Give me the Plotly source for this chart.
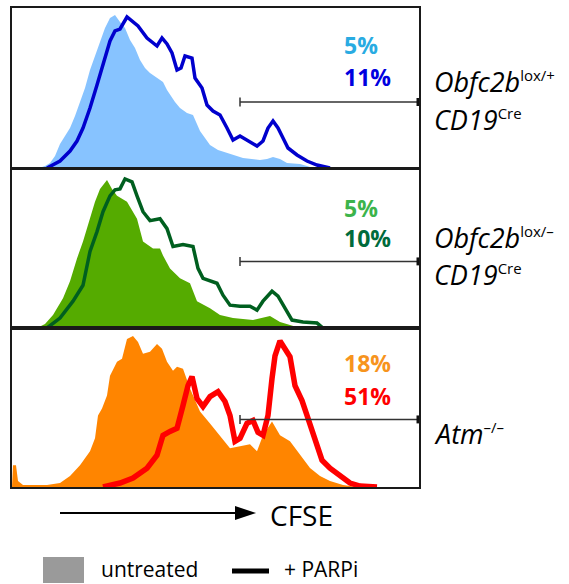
import plotly.graph_objects as go

W, H = 569, 584

# ---------------- data (CFSE channel, count) ----------------
# Panel 1: Obfc2b lox/+ CD19Cre
p1_untr_x = [27, 33, 38, 43, 48, 53, 58, 63, 68, 73, 78, 83, 88, 93, 98, 103, 108, 113, 118, 123, 128, 133, 138, 145, 151, 155, 158, 163, 168, 175, 181, 185, 188, 193, 198, 206, 215, 223, 231, 248, 255, 261, 268, 275, 288, 295, 301]
p1_untr_y = [0, 2, 5, 12, 24, 32, 40, 52, 66, 80, 98, 112, 127, 140, 150, 153, 146, 140, 128, 120, 108, 100, 95, 90, 86, 78, 73, 66, 60, 55, 53, 44, 37, 30, 23, 18, 15, 12, 10, 8, 9, 11, 9, 5, 4, 2, 0]
p1_parp_x = [35, 41, 48, 58, 65, 71, 78, 85, 91, 98, 103, 108, 115, 120, 126, 135, 145, 150, 155, 160, 165, 169, 173, 180, 183, 190, 195, 201, 208, 215, 221, 228, 235, 245, 251, 256, 261, 266, 271, 276, 285, 295, 305, 318]
p1_parp_y = [0, 3, 7, 17, 27, 40, 60, 83, 103, 127, 137, 139, 151, 147, 142, 130, 122, 130, 124, 115, 98, 100, 112, 110, 90, 80, 63, 57, 53, 40, 28, 32, 28, 22, 27, 40, 47, 40, 30, 20, 13, 7, 3, 0]

# Panel 2: Obfc2b lox/- CD19Cre
p2_untr_x = [25, 33, 41, 51, 58, 65, 71, 78, 83, 88, 95, 100, 105, 115, 125, 131, 141, 148, 151, 158, 168, 178, 185, 198, 208, 221, 241, 258, 268, 278, 288]
p2_untr_y = [0, 4, 13, 30, 47, 70, 87, 110, 127, 140, 149, 140, 133, 127, 110, 87, 80, 80, 73, 60, 50, 45, 27, 20, 13, 10, 8, 12, 6, 3, 0]
p2_parp_x = [35, 48, 61, 71, 78, 85, 91, 98, 103, 108, 113, 120, 125, 131, 138, 148, 155, 161, 171, 181, 186, 191, 205, 211, 218, 228, 238, 245, 251, 260, 266, 273, 280, 291, 305, 311]
p2_parp_y = [0, 10, 27, 43, 77, 97, 117, 133, 139, 140, 150, 147, 133, 117, 108, 110, 100, 82, 84, 82, 60, 50, 45, 33, 23, 22, 22, 18, 27, 37, 32, 20, 8, 6, 5, 0]

# Panel 3: Atm -/-
p3_untr_x = [0, 1, 4, 6, 11, 35, 48, 58, 68, 78, 83, 86, 90, 95, 98, 105, 110, 115, 121, 126, 131, 138, 145, 150, 155, 161, 165, 171, 178, 188, 198, 208, 218, 228, 238, 245, 251, 260, 268, 278, 288, 298, 308, 318, 331, 345]
p3_untr_y = [0, 22, 22, 6, 2, 2, 4, 11, 22, 36, 49, 72, 79, 92, 112, 126, 129, 149, 152, 146, 134, 136, 144, 139, 126, 117, 121, 119, 99, 76, 64, 52, 39, 41, 43, 36, 52, 66, 52, 46, 32, 19, 11, 6, 2, 0]
p3_parp_x = [91, 108, 121, 135, 145, 151, 158, 165, 171, 176, 180, 185, 191, 198, 206, 213, 218, 223, 228, 235, 241, 246, 251, 256, 260, 263, 268, 273, 278, 283, 290, 295, 300, 305, 310, 318, 328, 338, 348, 365]
p3_parp_y = [0, 4, 9, 19, 32, 52, 56, 59, 82, 102, 111, 89, 81, 91, 96, 86, 72, 46, 49, 64, 67, 55, 52, 72, 109, 132, 147, 139, 131, 102, 87, 72, 57, 46, 27, 19, 11, 4, 1, 0]

pct_untreated = ["5%", "5%", "18%"]
pct_parpi = ["11%", "10%", "51%"]
gate_start = 228
gate_end = 406
gate_level = [66, 67, 68]

fill_colors = ["#87C3FF", "#55AB00", "#FF8500"]
line_colors = ["#0000CD", "#005F1F", "#FF0000"]
line_widths = [3.5, 3.5, 5.5]
pct1_colors = ["#29ABE2", "#3CB44B", "#F7941D"]
pct2_colors = ["#0000E0", "#006B3C", "#FF0000"]

untr = [(p1_untr_x, p1_untr_y), (p2_untr_x, p2_untr_y), (p3_untr_x, p3_untr_y)]
parp = [(p1_parp_x, p1_parp_y), (p2_parp_x, p2_parp_y), (p3_parp_x, p3_parp_y)]

# ---------------- layout helpers ----------------
def px(x):
    return x / W

def py(y):
    return 1 - y / H

panel_px = [(8, 168), (169, 328), (328, 487)]
X0, X1 = 12, 419
FONT = "Open Sans"

fig = go.Figure()
layout = dict(
    width=W, height=H, margin=dict(l=0, r=0, t=0, b=0),
    paper_bgcolor="white", plot_bgcolor="white", showlegend=False,
)
annotations = []
shapes = []

for i in range(3):
    ax = "" if i == 0 else str(i + 1)
    xa, ya = "x" + ax, "y" + ax
    top, bot = panel_px[i]
    layout["xaxis" + ax] = dict(
        domain=[px(X0), px(X1)], range=[0, 407], anchor=ya,
        showline=True, mirror=True, linecolor="#1a1a1a", linewidth=1.5,
        showticklabels=False, ticks="", showgrid=False, zeroline=False,
    )
    layout["yaxis" + ax] = dict(
        domain=[py(bot), py(top)], range=[0, 160], anchor=xa,
        showline=True, mirror=True, linecolor="#1a1a1a", linewidth=1.5,
        showticklabels=False, ticks="", showgrid=False, zeroline=False,
    )
    ux, uy = untr[i]
    fig.add_trace(go.Scatter(x=ux, y=uy, mode="lines", fill="tozeroy",
                             fillcolor=fill_colors[i], line=dict(width=0, color=fill_colors[i]),
                             xaxis=xa, yaxis=ya, hoverinfo="skip"))
    lx, ly = parp[i]
    fig.add_trace(go.Scatter(x=lx, y=ly, mode="lines",
                             line=dict(width=line_widths[i], color=line_colors[i]),
                             xaxis=xa, yaxis=ya, hoverinfo="skip"))
    # gate
    g = gate_level[i]
    shapes.append(dict(type="line", xref=xa, yref=ya, x0=gate_start, x1=gate_end, y0=g, y1=g,
                       line=dict(color="#333333", width=1.5)))
    shapes.append(dict(type="line", xref=xa, yref=ya, x0=gate_start, x1=gate_start, y0=g - 4.5, y1=g + 4.5,
                       line=dict(color="#333333", width=1.5)))
    shapes.append(dict(type="line", xref=xa, yref=ya, x0=gate_end, x1=gate_end, y0=g - 4, y1=g + 4,
                       line=dict(color="#111111", width=3)))
    # percentages
    annotations.append(dict(text="<b>%s</b>" % pct_untreated[i], xref=xa, yref=ya, x=330,
                            y=[123, 121, 125][i], xanchor="left", yanchor="middle", showarrow=False,
                            font=dict(family=FONT, size=23, color=pct1_colors[i])))
    annotations.append(dict(text="<b>%s</b>" % pct_parpi[i], xref=xa, yref=ya, x=330,
                            y=[91, 91, 92][i], xanchor="left", yanchor="middle", showarrow=False,
                            font=dict(family=FONT, size=23, color=pct2_colors[i])))

# genotype labels
sup = "<sup><span style='font-size:15px'>%s</span></sup>"
labels = [
    ("<i>Obfc2b</i>" + sup % "lox/+", 81),
    ("<i>CD19</i>" + sup % "Cre", 120),
    ("<i>Obfc2b</i>" + sup % "lox/\u2013", 238),
    ("<i>CD19</i>" + sup % "Cre", 275),
    ("<i>Atm</i>" + sup % "\u2013/\u2013", 433),
]
for txt, yc in labels:
    annotations.append(dict(text=txt, xref="paper", yref="paper", x=px(432), y=py(yc),
                            xanchor="left", yanchor="middle", showarrow=False,
                            font=dict(family=FONT, size=27, color="black")))

# CFSE arrow
shapes.append(dict(type="line", xref="paper", yref="paper", x0=px(60), x1=px(240), y0=py(513), y1=py(513),
                   line=dict(color="black", width=2.2)))
shapes.append(dict(type="path", xref="paper", yref="paper",
                   path="M %f %f L %f %f L %f %f Z" % (px(235), py(506), px(256), py(513), px(235), py(520)),
                   fillcolor="black", line=dict(color="black", width=0)))
annotations.append(dict(text="CFSE", xref="paper", yref="paper", x=px(268), y=py(515),
                        xanchor="left", yanchor="middle", showarrow=False,
                        font=dict(family=FONT, size=28, color="black")))

# legend
shapes.append(dict(type="rect", xref="paper", yref="paper", x0=px(43), x1=px(84), y0=py(583), y1=py(557),
                   fillcolor="#9A9A9A", line=dict(width=0)))
annotations.append(dict(text="untreated", xref="paper", yref="paper", x=px(99), y=py(569),
                        xanchor="left", yanchor="middle", showarrow=False,
                        font=dict(family=FONT, size=21, color="black")))
shapes.append(dict(type="line", xref="paper", yref="paper", x0=px(232), x1=px(269), y0=py(571), y1=py(571),
                   line=dict(color="black", width=5)))
annotations.append(dict(text="+ PARPi", xref="paper", yref="paper", x=px(282), y=py(569),
                        xanchor="left", yanchor="middle", showarrow=False,
                        font=dict(family=FONT, size=21, color="black")))

layout["annotations"] = annotations
layout["shapes"] = shapes
fig.update_layout(**layout)
fig.write_html("out.html", config={"displayModeBar": False},
               post_script="document.body.style.margin='0px';document.body.style.overflow='hidden';")
